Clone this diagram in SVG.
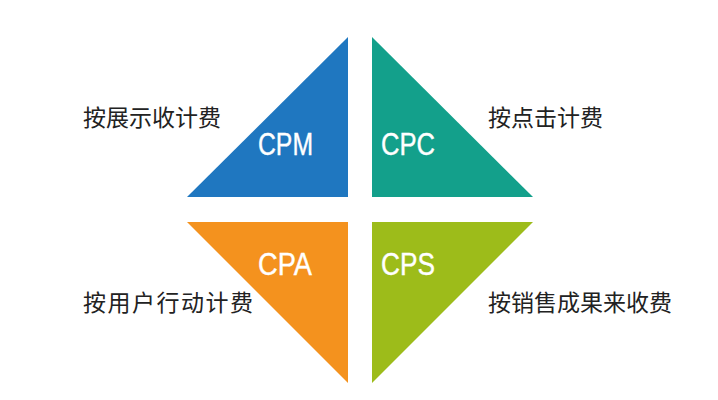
<svg xmlns="http://www.w3.org/2000/svg" width="718" height="400" viewBox="0 0 718 400">
<style>
.tri-label{font-family:"Liberation Sans",Arial,sans-serif;font-size:32px;fill:#ffffff;stroke:#ffffff;stroke-width:0.4;}
.desc{font-family:"Noto Sans CJK SC","Noto Sans",sans-serif;font-size:23px;fill:#222222;}
</style>
<rect width="718" height="400" fill="#ffffff"/>
<g id="cpm">
<polygon points="187,197 348,37 348,197" fill="#1f77c0"/>
<text class="tri-label" x="258" y="155" textLength="55" lengthAdjust="spacingAndGlyphs">CPM</text>
</g>
<g id="cpc">
<polygon points="372,37 372,197 533,197" fill="#13a08b"/>
<text class="tri-label" x="381" y="155" textLength="54" lengthAdjust="spacingAndGlyphs">CPC</text>
</g>
<g id="cpa">
<polygon points="187,222 348,222 348,383" fill="#f4921e"/>
<text class="tri-label" x="258" y="275" textLength="54" lengthAdjust="spacingAndGlyphs">CPA</text>
</g>
<g id="cps">
<polygon points="372,222 533,222 372,383" fill="#9dbc1a"/>
<text class="tri-label" x="381" y="275" textLength="54" lengthAdjust="spacingAndGlyphs">CPS</text>
</g>
<g id="labels">
<text class="desc" x="83" y="126">按展示收计费</text>
<text class="desc" x="488" y="126">按点击计费</text>
<text class="desc" x="83" y="311" textLength="170">按用户行动计费</text>
<text class="desc" x="488" y="311">按销售成果来收费</text>
</g>
<g id="connectors"></g>
</svg>
